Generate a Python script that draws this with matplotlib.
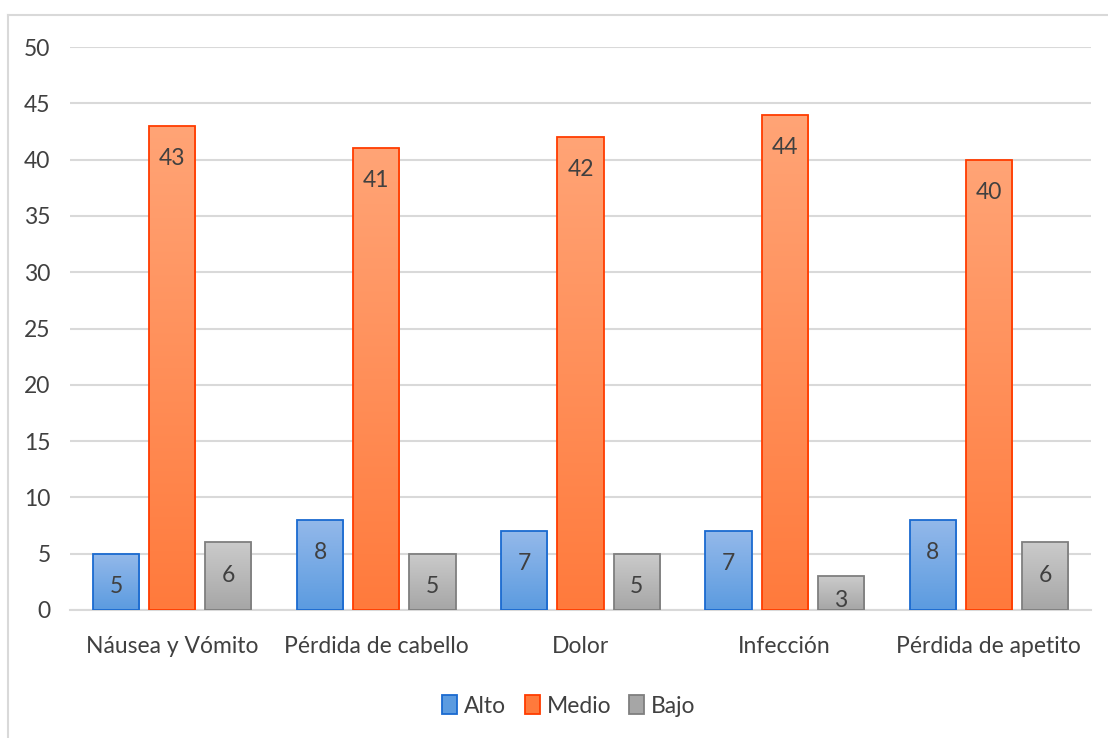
import numpy as np
import matplotlib.pyplot as plt
from matplotlib.colors import LinearSegmentedColormap
from matplotlib.lines import Line2D
from matplotlib.patches import Rectangle

categories = ["Náusea y Vómito", "Pérdida de cabello", "Dolor", "Infección", "Pérdida de apetito"]
alto = [5, 8, 7, 7, 8]
medio = [43, 41, 42, 44, 40]
bajo = [6, 5, 5, 3, 6]
series_names = ["Alto", "Medio", "Bajo"]

# (top colour, bottom colour, edge colour)
styles = [
    ("#94b9ea", "#5b9be0", "#1a6ad0"),
    ("#ffa476", "#ff7a3c", "#ff3c00"),
    ("#cbcbcb", "#a6a6a6", "#7f7f7f"),
]

txt = "#404040"
fs = 16.5
plt.rcParams['font.family'] = ['Lato', 'DejaVu Sans']

fig = plt.figure(figsize=(11.08, 7.38), dpi=100)
ax = fig.add_axes([70 / 1108, 1 - 610 / 738, (1091 - 70) / 1108, (610 - 47) / 738])

# chart border
fig.add_artist(Line2D([8 / 1108, 8 / 1108], [0, 1 - 15 / 738], color="#d9d9d9", lw=1.5))
fig.add_artist(Line2D([8 / 1108, 1], [1 - 15 / 738, 1 - 15 / 738], color="#d9d9d9", lw=1.5))

x = np.arange(len(categories))
w = 0.226
offs = [-0.275, 0, 0.275]
grad = np.linspace(0, 1, 256).reshape(-1, 1)

for vals, off, (top, bot, edge), name in zip([alto, medio, bajo], offs, styles, series_names):
    cmap = LinearSegmentedColormap.from_list(name, [bot, top])
    for xi, v in zip(x, vals):
        r = Rectangle((xi + off - w / 2, 0), w, v, facecolor="none", edgecolor=edge, lw=1.3, zorder=4)
        ax.add_patch(r)
        im = ax.imshow(grad, cmap=cmap, aspect="auto", origin="lower",
                       extent=(xi + off - w / 2, xi + off + w / 2, 0, v), zorder=3)
        im.set_clip_path(r)
        # label inside the end of the bar, kept inside short bars
        dy = min(2.9, v * 0.73)
        ax.text(xi + off, v - dy, str(v), ha="center", va="center", fontsize=fs, color=txt, zorder=5)

ax.set_xlim(-0.5, len(categories) - 0.5)
ax.set_ylim(0, 50)
ax.set_yticks(range(0, 51, 5))
ax.set_xticks(x)
ax.set_xticklabels(categories)
ax.yaxis.grid(True, color="#d9d9d9", lw=1.5)
ax.set_axisbelow(True)
for s in ["top", "right", "left"]:
    ax.spines[s].set_visible(False)
ax.spines["bottom"].set_color("#d9d9d9")
ax.spines["bottom"].set_linewidth(1.5)
ax.tick_params(axis="both", length=0, labelsize=fs, colors=txt)
ax.tick_params(axis="y", pad=14)
ax.tick_params(axis="x", pad=19)

handles = [Rectangle((0, 0), 1, 1, facecolor=s[1], edgecolor=s[2], lw=1.3) for s in styles]
fig.legend(handles, series_names, loc="center", bbox_to_anchor=(569 / 1108, 1 - 706 / 738),
           ncol=3, frameon=False, fontsize=fs, handlelength=0.65, handleheight=0.9,
           handletextpad=0.3, columnspacing=0.8, labelcolor=txt)

fig.savefig("out.png", dpi=100)
